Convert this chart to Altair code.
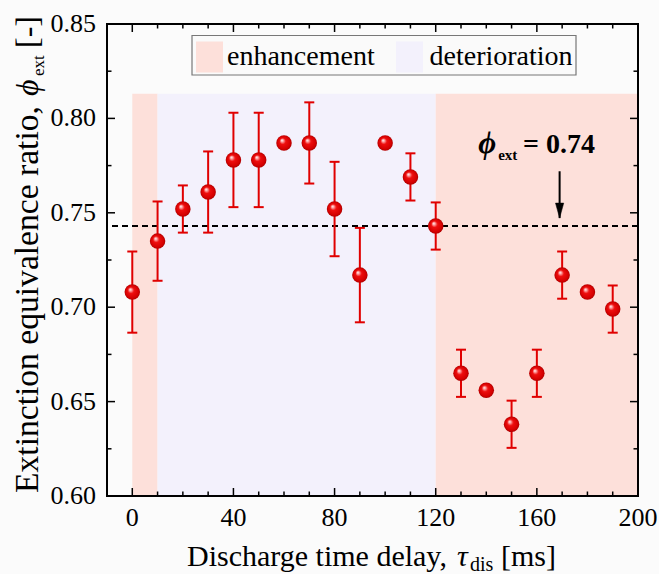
import altair as alt
import pandas as pd

FONT = "Liberation Serif"
RED = "#e00000"
PINK = "#fde0da"
LAVENDER = "#f3f1fc"

# Measured extinction equivalence ratio versus discharge time delay
delay_ms = [0, 10, 20, 30, 40, 50, 60, 70, 80, 90, 100, 110, 120, 130, 140, 150, 160, 170, 180, 190]
phi_ext = [0.708, 0.735, 0.752, 0.761, 0.778, 0.778, 0.787, 0.787, 0.752, 0.717,
           0.787, 0.769, 0.743, 0.665, 0.656, 0.638, 0.665, 0.717, 0.708, 0.699]
phi_err = [0.0215, 0.021, 0.0125, 0.0215, 0.025, 0.025, 0.0, 0.0215, 0.025, 0.025,
           0.0, 0.0125, 0.0125, 0.0125, 0.0, 0.0125, 0.0125, 0.0125, 0.0, 0.0125]

# Shaded regimes
region_start = [0, 10, 120]
region_end = [10, 120, 200]
region_kind = ["enhancement", "deterioration", "enhancement"]
region_floor = 0.60
region_ceiling = 0.813
legend_kinds = ["enhancement", "deterioration"]

# Reference extinction ratio and its annotation
phi_ref = 0.743
arrow_x = 169
arrow_top = 0.772
arrow_tip = 0.7472

# Axis ticks and labels
x_major = [0, 40, 80, 120, 160, 200]
x_minor = [10, 20, 30, 50, 60, 70, 90, 100, 110, 130, 140, 150, 170, 180, 190]
y_major = [0.60, 0.65, 0.70, 0.75, 0.80, 0.85]
y_minor = [0.625, 0.675, 0.725, 0.775, 0.825]

W, H = 531, 472
MAJOR, MINOR = 8, 4.5

xs = alt.Scale(domain=[-10, 200], nice=False, zero=False)
ys = alt.Scale(domain=[0.60, 0.85], nice=False, zero=False)
cs = alt.Scale(domain=legend_kinds, range=[PINK, LAVENDER])


def X(field):
    return alt.X(field, scale=xs, axis=None)


def Y(field):
    return alt.Y(field, scale=ys, axis=None)


pts = pd.DataFrame({"delay": delay_ms, "phi": phi_ext, "err": phi_err})
pts["lo"] = pts["phi"] - pts["err"]
pts["hi"] = pts["phi"] + pts["err"]
bars = pts[pts["err"] > 0]

regions = pd.DataFrame({
    "start": region_start, "end": region_end, "kind": region_kind,
    "floor": [region_floor] * 3, "ceiling": [region_ceiling] * 3,
})

one = pd.DataFrame({"k": [0]})

region_layer = alt.Chart(regions).mark_rect(opacity=1).encode(
    x=X("start:Q"), x2="end:Q", y=Y("floor:Q"), y2="ceiling:Q",
    color=alt.Color("kind:N", scale=cs, legend=None),
)

ref_layer = alt.Chart(pd.DataFrame({"v": [phi_ref]})).mark_rule(
    color="black", strokeWidth=2, strokeDash=[6, 4]
).encode(y=Y("v:Q"))

err_layer = alt.Chart(bars).mark_rule(color=RED, strokeWidth=2).encode(
    x=X("delay:Q"), y=Y("lo:Q"), y2="hi:Q",
)

cap_lo = alt.Chart(bars).mark_tick(color=RED, orient="horizontal", size=10, thickness=2, opacity=1).encode(
    x=X("delay:Q"), y=Y("lo:Q"),
)
cap_hi = alt.Chart(bars).mark_tick(color=RED, orient="horizontal", size=10, thickness=2, opacity=1).encode(
    x=X("delay:Q"), y=Y("hi:Q"),
)

sphere = alt.RadialGradient(
    gradient="radial",
    stops=[
        alt.GradientStop(offset=0, color="#ffffff"),
        alt.GradientStop(offset=0.14, color="#ffb4b4"),
        alt.GradientStop(offset=0.4, color="#ee0e0e"),
        alt.GradientStop(offset=0.85, color="#d40000"),
        alt.GradientStop(offset=1, color="#a80000"),
    ],
    x1=0.36, y1=0.32, r1=0, x2=0.5, y2=0.5, r2=0.5,
)

point_layer = alt.Chart(pts).mark_circle(size=240, fill=sphere, opacity=1).encode(
    x=X("delay:Q"), y=Y("phi:Q"),
)


# Inward ticks on all four sides of the frame
def x_ticks(values, length):
    df = pd.DataFrame({"v": values})
    bottom = alt.Chart(df).mark_rule(color="black", strokeWidth=1.5).encode(
        x=X("v:Q"), y=alt.value(H), y2=alt.value(H - length))
    top = alt.Chart(df).mark_rule(color="black", strokeWidth=1.5).encode(
        x=X("v:Q"), y=alt.value(0), y2=alt.value(length))
    return [bottom, top]


def y_ticks(values, length):
    df = pd.DataFrame({"v": values})
    left = alt.Chart(df).mark_rule(color="black", strokeWidth=1.5).encode(
        y=Y("v:Q"), x=alt.value(0), x2=alt.value(length))
    right = alt.Chart(df).mark_rule(color="black", strokeWidth=1.5).encode(
        y=Y("v:Q"), x=alt.value(W), x2=alt.value(W - length))
    return [left, right]


tick_layers = x_ticks(x_major, MAJOR) + x_ticks(x_minor, MINOR) + y_ticks(y_major, MAJOR) + y_ticks(y_minor, MINOR)

# Tick labels
x_labels = alt.Chart(pd.DataFrame({"v": x_major})).mark_text(
    font=FONT, fontSize=26, color="black", align="center", baseline="top",
).encode(x=X("v:Q"), y=alt.value(H + 9), text=alt.Text("v:Q", format="d"))

y_labels = alt.Chart(pd.DataFrame({"v": y_major})).mark_text(
    font=FONT, fontSize=26, color="black", align="right", baseline="middle",
).encode(y=Y("v:Q"), x=alt.value(-11), text=alt.Text("v:Q", format=".2f"))

frame = alt.Chart(one).mark_rect(fillOpacity=0, stroke="black", strokeWidth=2).encode(
    x=alt.value(0), x2=alt.value(W), y=alt.value(0), y2=alt.value(H))

# Legend box with the two regime swatches
legend_box = alt.Chart(one).mark_rect(fill="#fafafa", stroke="#777777", strokeWidth=1.2).encode(
    x=alt.value(85), x2=alt.value(469), y=alt.value(11.5), y2=alt.value(51))


def legend_entry(kind, sx, tx):
    df = pd.DataFrame({"kind": [kind]})
    swatch = alt.Chart(df).mark_rect(opacity=1).encode(
        x=alt.value(sx), x2=alt.value(sx + 27), y=alt.value(17.5), y2=alt.value(48.5),
        color=alt.Color("kind:N", scale=cs, legend=None),
    )
    label = alt.Chart(df).mark_text(
        font=FONT, fontSize=28, color="black", align="left", baseline="alphabetic",
    ).encode(x=alt.value(tx), y=alt.value(41), text="kind:N")
    return [swatch, label]


legend_layers = legend_entry("enhancement", 89, 120) + legend_entry("deterioration", 289, 322.5)

# Arrow pointing at the reference line
arrow_df = pd.DataFrame({"x": [arrow_x], "top": [arrow_top], "tip": [arrow_tip]})
arrow_shaft = alt.Chart(arrow_df).mark_rule(color="black", strokeWidth=2).encode(
    x=X("x:Q"), y=Y("top:Q"), y2="tip:Q",
)
arrow_head = alt.Chart(arrow_df).mark_point(
    shape="M-0.55,-2L0.55,-2L0,0Z", size=225, filled=True, fill="black", stroke="black",
    strokeWidth=0.5, opacity=1,
).encode(x=X("x:Q"), y=Y("tip:Q"))

# Annotation text: phi_ext = 0.74
ann_df = pd.DataFrame({
    "x": [136.8, 144.7, 154.5],
    "y": [0.7819, 0.7781, 0.7819],
    "t": ["ϕ", "ext", "= 0.74"],
    "part": ["sym", "sub", "val"],
})


def ann(part, size, style="normal"):
    return alt.Chart(ann_df[ann_df["part"] == part]).mark_text(
        font=FONT, fontSize=size, fontWeight="bold", fontStyle=style, color="black",
        align="left", baseline="alphabetic",
    ).encode(x=X("x:Q"), y=Y("y:Q"), text="t:N")


ann_layers = [ann("sym", 31, "italic"), ann("sub", 15), ann("val", 28)]


# Axis titles built from pieces to allow italics and subscripts
def piece(text, x, y, size, style="normal", angle=0):
    return alt.Chart(one).mark_text(
        text=text, font=FONT, fontSize=size, fontStyle=style, color="black",
        align="left", baseline="alphabetic", angle=angle,
    ).encode(x=alt.value(x), y=alt.value(y))


x_title = [
    piece("Discharge time delay,", 80, 542, 30),
    piece("τ", 350, 542, 30, "italic"),
    piece("dis", 363, 547, 20),
    piece("[ms]", 394, 542, 30),
]

y_title = [
    piece("Extinction equivalence ratio,", -69, 469, 33.6, angle=270),
    piece("ϕ", -69, 72, 32, "italic", angle=270),
    piece("ext", -63, 52, 17, angle=270),
    piece("[-]", -69, 24, 32, angle=270),
]

chart = alt.layer(
    region_layer, ref_layer, err_layer, cap_lo, cap_hi, point_layer,
    *tick_layers, x_labels, y_labels, frame, legend_box, *legend_layers,
    arrow_shaft, arrow_head, *ann_layers, *x_title, *y_title,
).properties(
    width=W, height=H,
    autosize=alt.AutoSizeParams(type="none"),
    padding={"left": 107, "top": 24, "right": 21, "bottom": 78},
    background="#fbfbfb",
).configure_view(stroke="transparent")

chart.save("out.html", embed_options={"renderer": "svg", "actions": False})
